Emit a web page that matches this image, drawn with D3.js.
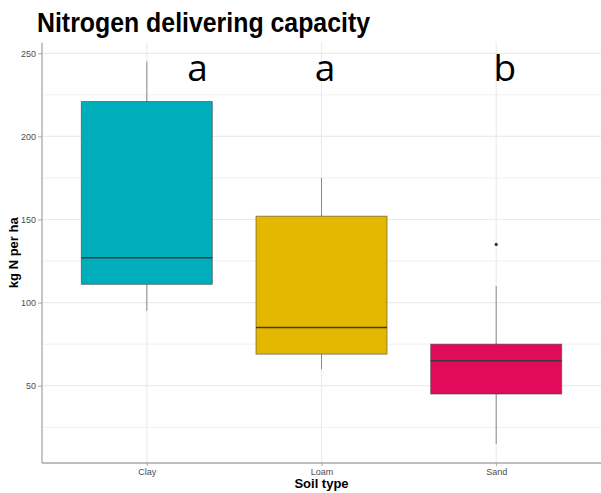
<!DOCTYPE html>
<html>
<head>
<meta charset="utf-8">
<script src="https://cdn.jsdelivr.net/npm/d3@7"></script>
<style>
  body { margin: 0; background: #fff; }
  svg { display: block; font-family: "Liberation Sans", Arial, sans-serif; }
</style>
</head>
<body>
<svg width="601" height="493"></svg>
<script>
// soil types and their box stats
var soils    = ["Clay", "Loam", "Sand"];
var colours  = ["#00adba", "#e4b800", "#e10a5b"];
var lowWhisk = [95, 60, 15];
var q1       = [111, 69, 45];
var medians  = [127, 85, 65];
var q3       = [221, 152, 75];
var highWhisk= [245, 175, 110];
var outliers = [{soil: "Sand", value: 135}];

var yTicks = [50, 100, 150, 200, 250];
var yMinor = [25, 75, 125, 175, 225];

// significance letters and how far they sit from the category centre (in category steps)
var letters = ["a", "a", "b"];
var letterShift = [0.29, 0.02, 0.05];
var letterValue = 241;

var width = 601;
var height = 493;
var margin = {left: 42, right: 0, top: 42.5, bottom: 30};

var svg = d3.select("svg");

var x = d3.scalePoint().domain(soils).range([margin.left, width - margin.right]).padding(0.6);
var y = d3.scaleLinear().domain([3.5, 256.5]).range([height - margin.bottom, margin.top]);
var boxW = x.step() * 0.75;

var boxes = soils.map(function(s, i) {
  return {soil: s, colour: colours[i], lo: lowWhisk[i], q1: q1[i], med: medians[i], q3: q3[i], hi: highWhisk[i]};
});

// grid
var grid = svg.append("g");
grid.selectAll(".minor").data(yMinor).enter().append("line")
  .attr("x1", margin.left).attr("x2", width - margin.right)
  .attr("y1", y).attr("y2", y)
  .attr("stroke", "#f0f0f0").attr("stroke-width", 1);
grid.selectAll(".major").data(yTicks).enter().append("line")
  .attr("x1", margin.left).attr("x2", width - margin.right)
  .attr("y1", y).attr("y2", y)
  .attr("stroke", "#ebebeb").attr("stroke-width", 1.2);
grid.selectAll(".vert").data(soils).enter().append("line")
  .attr("x1", x).attr("x2", x)
  .attr("y1", margin.top).attr("y2", height - margin.bottom)
  .attr("stroke", "#ebebeb").attr("stroke-width", 1.2);

// whiskers
svg.selectAll(".whisk").data(boxes).enter().append("line")
  .attr("x1", function(d) { return x(d.soil); })
  .attr("x2", function(d) { return x(d.soil); })
  .attr("y1", function(d) { return y(d.lo); })
  .attr("y2", function(d) { return y(d.hi); })
  .attr("stroke", "#8a8a8a").attr("stroke-width", 1);

// boxes
svg.selectAll(".box").data(boxes).enter().append("rect")
  .attr("x", function(d) { return x(d.soil) - boxW / 2; })
  .attr("y", function(d) { return y(d.q3); })
  .attr("width", boxW)
  .attr("height", function(d) { return y(d.q1) - y(d.q3); })
  .attr("fill", function(d) { return d.colour; })
  .attr("stroke", "rgba(60,60,60,0.55)").attr("stroke-width", 1);

svg.selectAll(".med").data(boxes).enter().append("line")
  .attr("x1", function(d) { return x(d.soil) - boxW / 2; })
  .attr("x2", function(d) { return x(d.soil) + boxW / 2; })
  .attr("y1", function(d) { return y(d.med); })
  .attr("y2", function(d) { return y(d.med); })
  .attr("stroke", "#3a3a3a").attr("stroke-width", 1.4);

svg.selectAll(".out").data(outliers).enter().append("circle")
  .attr("cx", function(d) { return x(d.soil); })
  .attr("cy", function(d) { return y(d.value); })
  .attr("r", 1.6).attr("fill", "#333");

// axes
var axisLeft = d3.axisLeft(y).tickValues(yTicks).tickSize(4).tickPadding(2);
var gy = svg.append("g")
  .attr("transform", "translate(" + margin.left + ",0)")
  .call(axisLeft);
var axisBottom = d3.axisBottom(x).tickSize(3).tickPadding(3);
var gx = svg.append("g")
  .attr("transform", "translate(0," + (height - margin.bottom) + ")")
  .call(axisBottom);

[gx, gy].forEach(function(g) {
  g.select(".domain").attr("stroke", "#a8a8a8").attr("stroke-width", 1.3);
  g.selectAll(".tick line").attr("stroke", "#a8a8a8");
  g.selectAll(".tick text").attr("fill", "#4d4d4d")
    .style("font-size", "9px").style("font-family", "Liberation Sans, Arial, sans-serif");
});
gy.select(".domain").attr("d", "M0," + y(3.5) + "V" + y(256.5));
gx.select(".domain").attr("d", "M" + margin.left + ",0H" + (width - margin.right));

// letters
svg.selectAll(".letter").data(letters).enter().append("text")
  .attr("x", function(d, i) { return x(soils[i]) + letterShift[i] * x.step(); })
  .attr("y", y(letterValue))
  .attr("dy", "0.35em")
  .attr("text-anchor", "middle")
  .style("font-family", "Open Sans, sans-serif")
  .style("font-size", "37px")
  .attr("fill", "#000")
  .text(function(d) { return d; });

// title (the original face is narrower than Liberation Sans, so squeeze it)
svg.append("text")
  .attr("x", 37).attr("y", 32)
  .attr("textLength", 333).attr("lengthAdjust", "spacingAndGlyphs")
  .style("font-size", "28px").style("font-weight", "bold")
  .attr("fill", "#000")
  .text("Nitrogen delivering capacity");

// text label for the y axis
svg.append("text")
  .attr("transform", "rotate(-90)")
  .attr("x", -(margin.top + height - margin.bottom) / 2)
  .attr("y", 18)
  .style("text-anchor", "middle")
  .style("font-size", "13px").style("font-weight", "bold")
  .text("kg N per ha");

// text label for the x axis
svg.append("text")
  .attr("x", (margin.left + width - margin.right) / 2)
  .attr("y", 488)
  .style("text-anchor", "middle")
  .style("font-size", "13px").style("font-weight", "bold")
  .text("Soil type");
</script>
</body>
</html>
